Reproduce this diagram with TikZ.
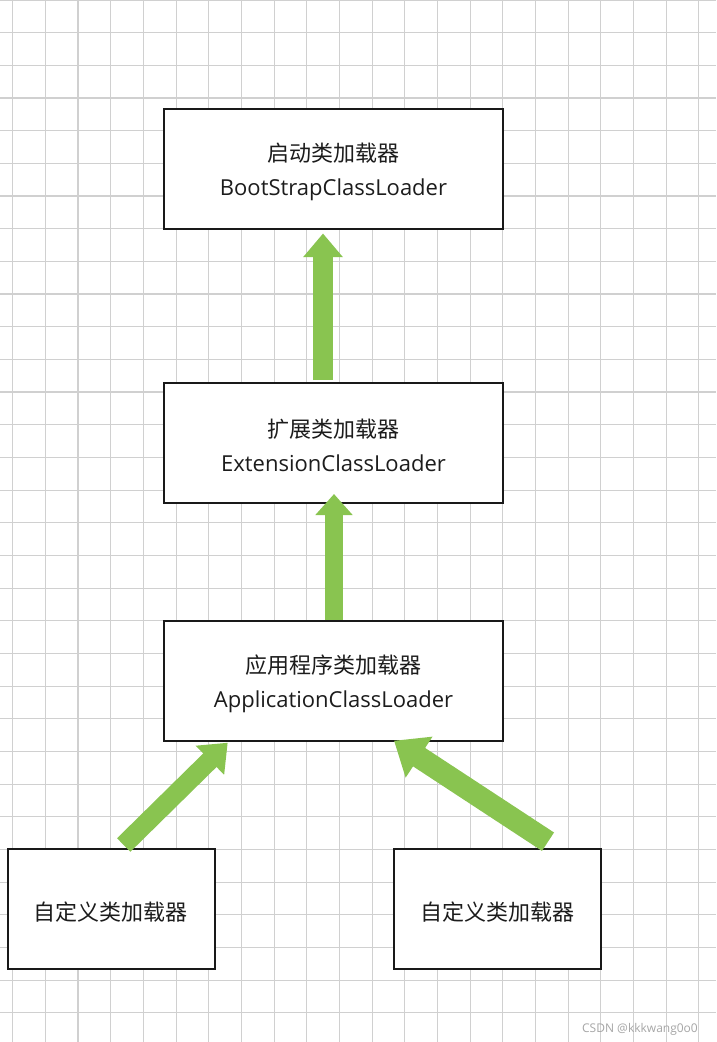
\documentclass[tikz,border=0pt]{standalone}
\usepackage{fontspec}
\setmainfont{Open Sans}
\newfontfamily\cjkfont{Noto Sans CJK SC}
\usetikzlibrary{arrows.meta}
\definecolor{gridc}{RGB}{208,208,208}
\definecolor{arrowgreen}{RGB}{137,196,80}
\definecolor{boxline}{RGB}{25,25,25}
\definecolor{txt}{RGB}{28,28,28}
\begin{document}
\begin{tikzpicture}[x=1pt,y=-1pt,
  gridline/.style={gridc, line width=1.1pt},
  box/.style={draw=boxline, line width=2pt, fill=white, inner sep=0pt},
  bigbox/.style={box, minimum width=339pt, minimum height=120pt},
  smallbox/.style={box, minimum width=207pt, minimum height=120pt},
  boxtext/.style={inner sep=0pt, align=center, text=txt, font=\fontsize{22}{34}\selectfont, yshift=-3pt},
  garrow/.style={draw=arrowgreen, color=arrowgreen}
]
\useasboundingbox (0,0) rectangle (716,1042);
\fill[white] (0,0) rectangle (716,1042);
\foreach \i in {0,...,21} \draw[gridline] ({12.7+32.67*\i},0) -- ++(0,1042);
\foreach \j in {0,...,31} \draw[gridline] (0,{32.67*\j}) -- ++(716,0);

\node[bigbox] (b1) at (333.5,169) {};
\node[bigbox] (b2) at (333.5,442.5) {};
\node[bigbox] (b3) at (333.5,680.5) {};
\node[smallbox] (b4) at (111,909) {};
\node[smallbox] (b5) at (497.5,909) {};

\node[boxtext] (t1) at (b1.center) {{\cjkfont 启动类加载器}\\BootStrapClassLoader};
\node[boxtext] (t2) at (b2.center) {{\cjkfont 扩展类加载器}\\ExtensionClassLoader};
\node[boxtext] (t3) at (b3.center) {{\cjkfont 应用程序类加载器}\\ApplicationClassLoader};
\node[boxtext] (t4) at (b4.center) {\cjkfont 自定义类加载器};
\node[boxtext] (t5) at (b5.center) {\cjkfont 自定义类加载器};

\coordinate (a1s) at (323,380);
\coordinate (a1e) at (323,233.5);
\coordinate (a2s) at (334,620);
\coordinate (a2e) at (334,494);
\coordinate (a3s) at (123.7,845);
\coordinate (a3e) at (227.7,742.7);
\coordinate (a4s) at (548,841.7);
\coordinate (a4e) at (394,740.7);

\draw[garrow, line width=20.5pt, -{Triangle[width=38pt,length=23.5pt]}] (a1s) -- (a1e);
\draw[garrow, line width=18pt, -{Triangle[width=36pt,length=21pt]}] (a2s) -- (a2e);
\draw[garrow, line width=19pt, -{Triangle[width=39pt,length=25pt]}] (a3s) -- (a3e);
\draw[garrow, line width=22pt, -{Triangle[width=47pt,length=30pt]}] (a4s) -- (a4e);

\node[text=gray!70, font=\fontsize{12}{14}\selectfont] (wm) at (640,1029) {CSDN @kkkwang0o0};
\end{tikzpicture}
\end{document}
